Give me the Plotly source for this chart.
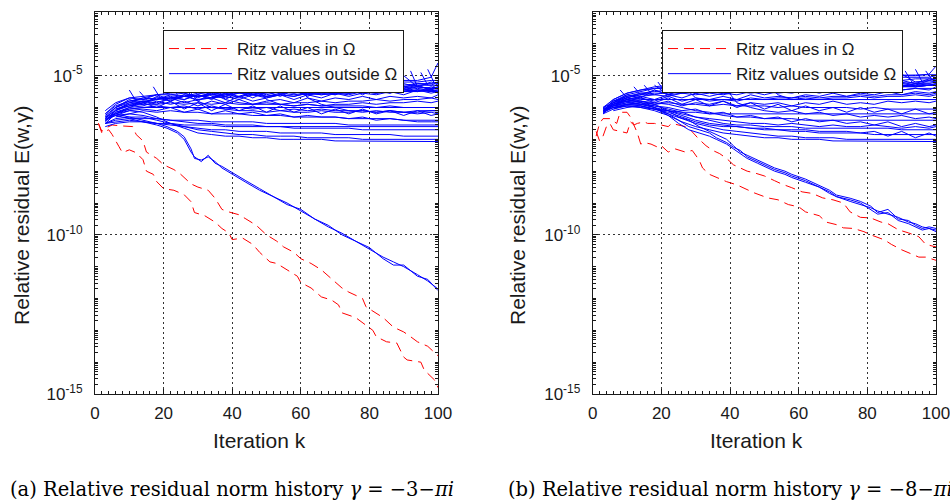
import plotly.graph_objects as go

N = None

# ---------------- panel (a): gamma = -3 - pi i ----------------
# values are log10 of the relative residual E(w, gamma)
A_RED1_K = [1, 2, 3, 5, 8, 11, 12, 14, 15, 18, 20, 23, 25, 28, 30, 33, 35, 37, 39, 42, 44, 47, 50, 53, 55,
            58, 60, 63, 66, 69, 72, 74, 78, 79, 82, 84, 87, 90, 92, 94, 97, 99, 100]
A_RED1 = [-6.5, -6.75, -6.65, -6.55, -6.58, -6.6, -6.85, -7.05, -7.4, -7.6, -7.8, -7.95, -8.1, -8.4, -8.5,
          -8.6, -8.85, -9.2, -9.28, -9.37, -9.5, -9.7, -10.0, -10.2, -10.38, -10.55, -10.75, -10.9, -11.1, -11.4,
          -11.67, -11.8, -12.0, -12.26, -12.45, -12.6, -12.9, -13.05, -13.2, -13.36, -13.5, -13.7, -13.8]
A_RED2_K = [1, 2, 4, 5, 7, 8, 10, 12, 14, 15, 17, 18, 20, 23, 26, 28, 29, 32, 35, 37, 39, 40, 43, 46, 48,
            51, 53, 57, 59, 60, 63, 66, 69, 71, 72, 76, 78, 81, 82, 85, 88, 90, 91, 95, 96, 99, 100]
A_RED2 = [-6.5, -6.8, -6.7, -6.85, -7.23, -7.42, -7.33, -7.42, -7.64, -8.0, -8.1, -8.33, -8.55, -8.6, -8.74,
          -8.96, -9.3, -9.4, -9.6, -9.8, -9.94, -10.15, -10.1, -10.3, -10.55, -10.85, -10.9, -11.15, -11.3, -11.5,
          -11.67, -11.95, -12.05, -12.2, -12.45, -12.6, -12.77, -13.0, -13.2, -13.36, -13.4, -13.84, -13.93, -14.0,
          -14.25, -14.56, -14.8]

A_FAST_K = [3, 6, 10, 14, 18, 21, 24, 26, 28, 29, 31, 33, 35, 37, 40, 44, 48, 52, 56, 60, 64, 68, 72, 76, 80,
            84, 87, 90, 94, 97, 100]
A_FAST_1 = [-6.3, -6.2, -6.3, -6.4, -6.5, -6.6, -6.75, -6.92, -7.3, -7.6, -7.65, -7.55, -7.7, -7.9, -8.1,
            -8.35, -8.6, -8.8, -9.0, -9.25, -9.5, -9.75, -9.95, -10.2, -10.45, -10.7, -10.85, -11.0, -11.25,
            -11.45, -11.7]
A_FAST_2 = [-6.4, -6.25, -6.35, -6.45, -6.55, -6.65, -6.8, -7.0, -7.4, -7.55, -7.7, -7.5, -7.75, -7.85, -8.05,
            -8.3, -8.55, -8.8, -9.05, -9.2, -9.5, -9.7, -10.0, -10.2, -10.4, -10.75, -10.95, -10.95, -11.3,
            -11.4, -11.75]

K_GRID = [3, 6, 10, 14, 18, 22, 26, 30, 34, 38, 42, 46, 50, 54, 58, 62, 66, 70, 74, 78, 82, 86, 90, 94, 98, 100]

A_BAND_01 = [-6.3, -6.0, -5.8, -5.7, -5.6, -5.55, -5.5, -5.5, -5.45, -5.4, -5.4, -5.35, -5.35, -5.3, -5.3, -5.3, -5.25, -5.25, -5.2, -5.2, -5.2, -5.15, -5.15, -5.15, -5.05, -4.6]
A_BAND_02 = [-6.2, -5.95, -5.8, -5.75, -5.7, -5.7, -5.6, -5.65, -5.55, -5.55, -5.5, -5.55, -5.45, -5.45, -5.5, -5.4, -5.4, -5.35, -5.4, -5.3, -5.35, -5.25, -5.3, -5.25, -5.25, -5.2]
A_BAND_03 = [N, -6.1, -5.9, -5.8, -5.75, -5.7, -5.65, -5.65, -5.6, -5.6, -5.55, -5.55, -5.5, -5.5, -5.45, -5.45, -5.45, -5.4, -5.4, -5.4, -5.35, -5.35, -5.35, -5.3, -5.3, -5.3]
A_BAND_04 = [-6.4, -6.1, -5.85, -5.8, -5.85, -5.7, -5.75, -5.6, -5.7, -5.55, -5.65, -5.5, -5.6, -5.5, -5.55, -5.45, -5.55, -5.45, -5.5, -5.4, -5.45, -5.4, -5.45, -5.35, -5.4, -5.4]
A_BAND_05 = [N, N, N, N, N, -5.1, -5.55, -5.65, -5.6, -5.65, -5.55, -5.6, -5.55, -5.5, -5.55, -5.5, -5.45, -5.5, -5.45, -5.45, -5.4, -5.45, -5.4, -5.35, -5.4, -5.35]
A_BAND_06 = [N, N, N, N, N, N, N, -5.2, -5.65, -5.7, -5.65, -5.6, -5.65, -5.55, -5.6, -5.55, -5.55, -5.5, -5.55, -5.5, -5.5, -5.45, -5.5, -5.45, -5.45, -5.45]
A_BAND_07 = [N, N, N, N, N, N, N, N, N, N, -5.15, -5.6, -5.65, -5.6, -5.65, -5.55, -5.6, -5.55, -5.55, -5.5, -5.55, -5.5, -5.5, -5.5, -5.45, -5.5]
A_BAND_08 = [N, N, N, N, N, N, N, N, N, N, N, N, N, -5.1, -5.5, -5.6, -5.55, -5.6, -5.5, -5.55, -5.5, -5.55, -5.45, -5.5, -5.45, -5.55]
A_BAND_09 = [N, N, N, N, N, N, N, N, N, N, N, N, N, N, N, N, -5.1, -5.5, -5.55, -5.5, -5.55, -5.45, -5.5, -5.45, -5.5, -5.45]
A_BAND_10 = [N, N, N, N, N, N, N, N, N, N, N, N, N, N, N, N, N, N, N, -5.05, -5.45, -5.5, -5.45, -5.4, -5.45, -5.35]
A_BAND_11 = [N, N, N, N, N, N, N, N, N, N, N, N, N, N, N, N, N, N, N, N, N, N, -5.0, -5.35, -5.4, -5.25]
A_BAND_12 = [N, N, N, N, N, N, N, N, -5.2, -5.75, -5.85, -5.9, -5.85, -5.9, -5.85, -5.85, -5.8, -5.85, -5.8, -5.8, -5.75, -5.8, -5.75, -5.75, -5.7, -5.75]
A_BAND_13 = [N, N, N, N, N, N, N, N, N, N, N, -5.25, -5.75, -5.9, -5.95, -5.9, -5.95, -5.9, -5.9, -5.85, -5.9, -5.85, -5.85, -5.8, -5.85, -5.8]
A_BAND_14 = [-6.3, -6.1, -5.95, -5.9, -5.9, -5.85, -5.9, -5.85, -5.9, -5.85, -5.9, -5.9, -5.9, -5.9, -5.95, -5.9, -5.95, -5.95, -5.95, -5.95, -6.0, -5.95, -6.0, -6.0, -6.0, -6.0]
A_BAND_15 = [N, -6.2, -6.05, -6.0, -6.0, -6.0, -6.0, -6.0, -6.0, -6.0, -6.0, -6.0, -6.0, -6.0, -6.0, -6.0, -6.0, -6.0, -6.0, -6.0, -6.0, -6.0, -6.0, -6.0, -6.0, -6.0]
A_BAND_16 = [-6.5, -6.2, -6.0, -5.85, -6.0, -5.8, -6.05, -5.85, -6.1, -5.9, -6.1, -5.95, -6.15, -5.95, -6.15, -6.0, -6.2, -6.05, -6.2, -6.05, -6.2, -6.1, -6.25, -6.1, -6.25, -6.2]
A_BAND_17 = [N, -6.3, -6.2, -6.1, -6.15, -6.1, -6.15, -6.15, -6.2, -6.2, -6.2, -6.25, -6.25, -6.25, -6.3, -6.3, -6.3, -6.3, -6.35, -6.35, -6.35, -6.35, -6.4, -6.4, -6.4, -6.4]
A_BAND_18 = [N, N, N, N, N, N, -5.3, -5.8, -6.0, -6.05, -6.1, -6.1, -6.15, -6.1, -6.15, -6.15, -6.1, -6.15, -6.15, -6.1, -6.15, -6.1, -6.15, -6.1, -6.1, -6.1]
A_BAND_19 = [N, N, N, N, N, N, N, N, N, N, N, N, N, N, -5.2, -5.7, -5.9, -6.0, -6.1, -6.1, -6.15, -6.1, -6.15, -6.15, -6.1, -6.1]
A_BAND_20 = [-6.4, -6.15, -6.05, -6.0, -5.95, -6.0, -5.95, -6.05, -5.95, -6.05, -6.0, -6.05, -6.0, -6.1, -6.05, -6.1, -6.05, -6.1, -6.1, -6.15, -6.1, -6.15, -6.15, -6.2, -6.15, -6.2]
A_BAND_21 = [-6.5, -6.4, -6.35, -6.35, -6.35, -6.4, -6.4, -6.4, -6.45, -6.45, -6.45, -6.45, -6.5, -6.5, -6.5, -6.5, -6.5, -6.5, -6.55, -6.55, -6.55, -6.55, -6.55, -6.55, -6.55, -6.55]
A_BAND_22 = [-6.6, -6.5, -6.45, -6.45, -6.5, -6.5, -6.55, -6.55, -6.55, -6.6, -6.6, -6.6, -6.6, -6.6, -6.65, -6.65, -6.65, -6.65, -6.65, -6.7, -6.7, -6.7, -6.7, -6.7, -6.7, -6.7]
A_BAND_23 = [-6.5, -6.45, -6.4, -6.45, -6.5, -6.55, -6.6, -6.65, -6.7, -6.7, -6.75, -6.75, -6.75, -6.8, -6.8, -6.8, -6.8, -6.85, -6.85, -6.85, -6.85, -6.85, -6.9, -6.9, -6.9, -6.9]
A_BAND_24 = [-6.5, -6.35, -6.3, -6.3, -6.4, -6.5, -6.6, -6.7, -6.75, -6.8, -6.85, -6.85, -6.9, -6.9, -6.9, -6.95, -6.95, -6.95, -6.95, -7.0, -7.0, -7.0, -7.0, -7.0, -7.0, -7.0]
A_BAND_25 = [-6.4, -6.2, -6.1, -6.15, -6.3, -6.5, -6.65, -6.8, -6.85, -6.9, -6.9, -6.95, -6.95, -7.0, -7.0, -7.0, -7.0, -7.05, -7.05, -7.05, -7.05, -7.05, -7.05, -7.07, -7.07, -7.07]
A_BAND_26 = [-6.35, -6.25, -6.2, -6.25, -6.35, -6.4, -6.45, -6.5, -6.5, -6.55, -6.55, -6.55, -6.6, -6.6, -6.6, -6.6, -6.6, -6.6, -6.6, -6.6, -6.6, -6.6, -6.6, -6.6, -6.6, -6.6]
A_BAND_27 = [-6.1, -5.85, -5.7, -5.65, -5.6, -5.6, -5.55, -5.7, -5.5, -5.65, -5.45, -5.6, -5.4, -5.55, -5.4, -5.5, -5.35, -5.5, -5.3, -5.45, -5.3, -5.4, -5.25, -5.35, -5.2, -5.25]
A_BAND_28 = [N, -6.05, -5.9, -5.85, -5.7, -5.8, -5.65, -5.75, -5.7, -5.65, -5.75, -5.6, -5.7, -5.6, -5.65, -5.55, -5.6, -5.55, -5.6, -5.5, -5.55, -5.5, -5.5, -5.45, -5.5, -5.5]
A_BAND_29 = [N, -6.0, -5.75, -5.9, -5.65, -5.8, -5.6, -5.8, -5.55, -5.75, -5.5, -5.7, -5.5, -5.65, -5.45, -5.65, -5.45, -5.6, -5.4, -5.6, -5.4, -5.55, -5.35, -5.5, -5.35, -5.4]
A_BAND_30 = [-6.2, -5.9, -5.7, -5.75, -5.6, -5.75, -5.65, -5.6, -5.75, -5.55, -5.7, -5.5, -5.65, -5.6, -5.45, -5.6, -5.5, -5.4, -5.55, -5.45, -5.35, -5.5, -5.4, -5.3, -5.45, -5.35]
A_BAND_31 = [-6.35, -6.05, -5.95, -5.8, -5.9, -5.7, -5.85, -5.75, -5.7, -5.85, -5.65, -5.8, -5.7, -5.6, -5.75, -5.6, -5.7, -5.55, -5.65, -5.55, -5.6, -5.5, -5.6, -5.45, -5.55, -5.5]
A_BAND_32 = [N, N, -5.95, -5.85, -5.75, -5.65, -5.75, -5.6, -5.7, -5.6, -5.5, -5.6, -5.45, -5.55, -5.5, -5.4, -5.5, -5.35, -5.45, -5.35, -5.4, -5.3, -5.35, -5.25, -5.3, -5.2]
A_BAND_33 = [-6.45, -6.15, -6.0, -5.95, -5.8, -5.9, -5.8, -5.95, -5.8, -5.9, -5.75, -5.9, -5.8, -5.75, -5.85, -5.7, -5.8, -5.7, -5.75, -5.65, -5.75, -5.65, -5.7, -5.65, -5.7, -5.6]
A_BAND_34 = [N, -6.25, -6.1, -6.05, -6.1, -6.0, -6.15, -6.05, -6.2, -6.1, -6.2, -6.15, -6.25, -6.2, -6.3, -6.25, -6.3, -6.3, -6.35, -6.3, -6.4, -6.35, -6.4, -6.45, -6.45, -6.45]
A_BAND_35 = [-6.25, -6.0, -5.85, -5.7, -5.75, -5.6, -5.65, -5.55, -5.6, -5.5, -5.5, -5.45, -5.45, -5.4, -5.4, -5.35, -5.35, -5.3, -5.3, -5.25, -5.25, -5.25, -5.2, -5.2, -5.15, -5.15]

# short-lived Ritz values entering high and falling into the band
A_SPIKE_K0 = [10, 13, 17, 22, 26, 29, 33, 36, 41, 45, 49, 52, 55, 59, 63, 67, 70, 74, 77, 81, 84, 88, 92, 95, 97]
A_SPIKE_TOP = [-5.45, -5.5, -5.35, -5.15, -5.25, -5.1, -5.2, -5.15, -5.1, -5.15, -5.05, -5.1, -5.05, -5.0, -5.05,
               -4.95, -5.0, -4.95, -4.9, -4.95, -4.85, -4.9, -4.85, -4.9, -4.8]
A_SPIKE_K1 = [12, 15, 19, 24, 28, 31, 35, 38, 43, 47, 51, 54, 57, 61, 65, 69, 72, 76, 79, 83, 86, 90, 94, 97, 99]
A_SPIKE_BASE = [-5.8, -5.75, -5.7, -5.6, -5.65, -5.55, -5.6, -5.5, -5.55, -5.5, -5.5, -5.45, -5.5, -5.4, -5.45,
                -5.4, -5.45, -5.35, -5.4, -5.35, -5.35, -5.3, -5.35, -5.3, -5.25]

# ---------------- panel (b): gamma = -8 - pi i ----------------
B_RED1_K = [1, 2, 3, 5, 7, 8, 10, 11, 12, 13, 15, 16, 18, 20, 22, 23, 25, 27, 28, 30, 31, 33, 35, 37, 39,
            41, 43, 45, 47, 50, 53, 55, 58, 61, 64, 67, 70, 73, 75, 78, 81, 84, 86, 89, 92, 95, 97, 100]
B_RED1 = [-6.9, -6.5, -6.35, -6.35, -6.5, -6.15, -6.15, -6.3, -6.55, -6.5, -6.45, -6.5, -6.5, -6.55, -6.6,
          -6.5, -6.55, -6.6, -6.65, -6.9, -7.0, -7.2, -7.35, -7.45, -7.6, -7.8, -7.9, -8.0, -8.05, -8.15,
          -8.3, -8.4, -8.52, -8.65, -8.7, -8.84, -8.9, -9.0, -9.28, -9.45, -9.47, -9.6, -9.65, -9.84, -9.94,
          -10.06, -10.3, -10.38]
B_RED2_K = [1, 2, 3, 4, 5, 6, 8, 10, 11, 12, 13, 14, 15, 17, 19, 20, 22, 24, 27, 29, 31, 32, 34, 36, 39,
            42, 45, 47, 51, 54, 57, 60, 62, 66, 68, 71, 73, 76, 79, 81, 85, 87, 90, 92, 95, 97, 100]
B_RED2 = [-6.75, -7.05, -6.9, -6.6, -6.5, -6.7, -6.75, -6.8, -6.45, -6.55, -6.8, -7.15, -7.1, -7.15, -7.25,
          -7.2, -7.4, -7.3, -7.4, -7.35, -7.65, -7.9, -8.1, -8.2, -8.33, -8.43, -8.58, -8.68, -8.84, -8.9,
          -9.05, -9.12, -9.28, -9.4, -9.6, -9.68, -9.78, -9.8, -9.9, -10.0, -10.16, -10.3, -10.47, -10.57,
          -10.7, -10.7, -10.8]

B_FAST_K = [3, 6, 10, 14, 18, 22, 25, 28, 31, 34, 36, 39, 41, 43, 45, 48, 50, 53, 56, 58, 62, 66, 69, 71, 75,
            78, 81, 83, 86, 89, 92, 94, 96, 98, 100]
B_FAST_1 = [-6.1, -5.8, -5.7, -5.8, -5.9, -6.1, -6.3, -6.4, -6.6, -6.75, -6.85, -7.0, -7.2, -7.4, -7.5,
            -7.65, -7.75, -7.9, -8.0, -8.1, -8.25, -8.45, -8.6, -8.75, -8.85, -8.95, -9.1, -9.3, -9.2, -9.5,
            -9.55, -9.7, -9.8, -9.75, -9.8]
B_FAST_2 = [-6.2, -5.9, -5.8, -5.9, -6.0, -6.2, -6.4, -6.6, -6.7, -6.8, -6.95, -7.1, -7.25, -7.35, -7.55,
            -7.7, -7.8, -7.95, -8.05, -8.15, -8.3, -8.5, -8.65, -8.8, -8.9, -9.0, -9.2, -9.35, -9.3, -9.55,
            -9.65, -9.75, -9.85, -9.8, -9.9]
B_FAST_3 = [-6.0, -5.85, -5.75, -5.85, -6.0, -6.25, -6.5, -6.7, -6.8, -6.9, -7.0, -7.15, -7.3, -7.45, -7.6,
            -7.75, -7.85, -8.0, -8.1, -8.2, -8.35, -8.5, -8.7, -8.8, -8.95, -9.05, -9.15, -9.25, -9.35, -9.45,
            -9.6, -9.65, -9.75, -9.8, -9.85]

B_BAND_01 = [-6.1, -5.8, -5.6, -5.5, -5.4, -5.35, -5.3, -5.3, -5.25, -5.25, -5.2, -5.2, -5.15, -5.15, -5.1, -5.1, -5.1, -5.05, -5.05, -5.05, -5.0, -5.0, -5.0, -5.0, -4.95, -4.7]
B_BAND_02 = [-6.05, -5.75, -5.55, -5.45, -5.4, -5.4, -5.35, -5.35, -5.3, -5.3, -5.3, -5.25, -5.25, -5.2, -5.2, -5.2, -5.15, -5.15, -5.15, -5.1, -5.1, -5.1, -5.05, -5.05, -5.05, -5.0]
B_BAND_03 = [-6.15, -5.85, -5.65, -5.55, -5.5, -5.45, -5.4, -5.4, -5.35, -5.35, -5.35, -5.3, -5.3, -5.3, -5.25, -5.25, -5.25, -5.2, -5.2, -5.2, -5.15, -5.15, -5.15, -5.1, -5.1, -5.1]
B_BAND_04 = [N, -5.9, -5.7, -5.6, -5.45, -5.6, -5.45, -5.55, -5.4, -5.5, -5.35, -5.5, -5.35, -5.45, -5.3, -5.45, -5.3, -5.4, -5.25, -5.35, -5.25, -5.3, -5.2, -5.3, -5.15, -5.2]
B_BAND_05 = [N, N, N, N, -5.3, -5.6, -5.55, -5.5, -5.5, -5.45, -5.45, -5.4, -5.4, -5.4, -5.35, -5.35, -5.35, -5.3, -5.3, -5.3, -5.25, -5.25, -5.25, -5.2, -5.2, -5.2]
B_BAND_06 = [N, N, N, N, N, N, N, -5.2, -5.5, -5.55, -5.5, -5.5, -5.45, -5.45, -5.4, -5.45, -5.4, -5.4, -5.35, -5.4, -5.35, -5.35, -5.3, -5.35, -5.3, -5.3]
B_BAND_07 = [N, N, N, N, N, N, N, N, N, N, -5.15, -5.45, -5.5, -5.45, -5.5, -5.4, -5.45, -5.4, -5.4, -5.35, -5.4, -5.35, -5.35, -5.3, -5.3, -5.3]
B_BAND_08 = [N, N, N, N, N, N, N, N, N, N, N, N, N, -5.05, -5.35, -5.45, -5.4, -5.45, -5.35, -5.4, -5.35, -5.35, -5.3, -5.35, -5.3, -5.3]
B_BAND_09 = [N, N, N, N, N, N, N, N, N, N, N, N, N, N, N, N, -5.0, -5.3, -5.4, -5.35, -5.4, -5.3, -5.35, -5.3, -5.3, -5.25]
B_BAND_10 = [N, N, N, N, N, N, N, N, N, N, N, N, N, N, N, N, N, N, N, -4.95, -5.25, -5.3, -5.3, -5.25, -5.25, -5.2]
B_BAND_11 = [N, N, N, N, N, N, N, N, N, N, N, N, N, N, N, N, N, N, N, N, N, N, -4.95, -5.2, -5.15, -5.1]
B_BAND_12 = [-6.1, -5.8, -5.65, -5.6, -5.55, -5.55, -5.5, -5.5, -5.5, -5.45, -5.45, -5.45, -5.45, -5.4, -5.4, -5.4, -5.4, -5.4, -5.35, -5.35, -5.35, -5.35, -5.35, -5.35, -5.3, -5.3]
B_BAND_13 = [N, -5.95, -5.75, -5.65, -5.6, -5.65, -5.55, -5.6, -5.55, -5.6, -5.5, -5.55, -5.5, -5.55, -5.5, -5.5, -5.45, -5.5, -5.45, -5.45, -5.45, -5.4, -5.45, -5.4, -5.4, -5.4]
B_BAND_14 = [N, N, N, N, N, N, -5.3, -5.7, -5.8, -5.75, -5.8, -5.7, -5.75, -5.7, -5.7, -5.65, -5.7, -5.65, -5.65, -5.6, -5.65, -5.6, -5.6, -5.55, -5.6, -5.55]
B_BAND_15 = [N, N, N, N, N, N, N, N, N, N, N, N, -5.2, -5.6, -5.75, -5.7, -5.75, -5.7, -5.7, -5.65, -5.7, -5.65, -5.65, -5.6, -5.65, -5.6]
B_BAND_16 = [-6.1, -5.9, -5.8, -5.75, -5.75, -5.75, -5.75, -5.75, -5.75, -5.75, -5.75, -5.75, -5.75, -5.75, -5.75, -5.75, -5.75, -5.75, -5.75, -5.75, -5.75, -5.75, -5.75, -5.75, -5.75, -5.75]
B_BAND_17 = [-6.1, -5.95, -5.9, -5.85, -5.9, -5.85, -5.9, -5.9, -5.95, -5.9, -5.95, -5.95, -5.95, -6.0, -5.95, -6.0, -6.0, -6.0, -6.0, -6.05, -6.0, -6.05, -6.05, -6.05, -6.05, -6.05]
B_BAND_18 = [-6.15, -5.9, -5.75, -5.7, -5.85, -5.7, -5.9, -5.75, -5.95, -5.8, -6.0, -5.85, -6.05, -5.9, -6.1, -5.95, -6.1, -6.0, -6.15, -6.0, -6.15, -6.05, -6.2, -6.05, -6.2, -6.15]
B_BAND_19 = [-6.15, -6.0, -5.95, -6.0, -6.05, -6.1, -6.15, -6.15, -6.2, -6.2, -6.2, -6.2, -6.2, -6.2, -6.2, -6.2, -6.2, -6.2, -6.2, -6.2, -6.2, -6.2, -6.2, -6.2, -6.2, -6.2]
B_BAND_20 = [N, N, N, N, N, N, N, N, N, -5.3, -5.85, -6.0, -6.1, -6.15, -6.1, -6.2, -6.15, -6.25, -6.2, -6.3, -6.25, -6.3, -6.25, -6.35, -6.3, -6.35]
B_BAND_21 = [-6.1, -5.95, -5.8, -5.8, -5.85, -5.9, -6.0, -6.1, -6.15, -6.25, -6.3, -6.3, -6.35, -6.35, -6.35, -6.4, -6.4, -6.4, -6.4, -6.4, -6.4, -6.4, -6.4, -6.4, -6.4, -6.4]
B_BAND_22 = [N, -6.0, -5.9, -5.85, -5.95, -6.0, -6.1, -6.05, -6.2, -6.15, -6.3, -6.25, -6.35, -6.3, -6.45, -6.35, -6.45, -6.4, -6.5, -6.45, -6.55, -6.45, -6.6, -6.5, -6.6, -6.55]
B_BAND_23 = [-6.1, -5.95, -5.85, -5.9, -6.0, -6.1, -6.25, -6.4, -6.5, -6.55, -6.6, -6.65, -6.7, -6.7, -6.75, -6.75, -6.8, -6.8, -6.8, -6.8, -6.85, -6.85, -6.85, -6.85, -6.85, -6.85]
B_BAND_24 = [-6.15, -6.0, -5.9, -5.95, -6.05, -6.2, -6.35, -6.5, -6.6, -6.7, -6.75, -6.8, -6.85, -6.9, -6.9, -6.95, -6.95, -6.95, -7.0, -7.0, -7.0, -7.0, -7.0, -7.0, -7.0, -7.0]
B_BAND_25 = [-6.1, -6.0, -5.95, -6.0, -6.1, -6.25, -6.45, -6.6, -6.7, -6.8, -6.85, -6.9, -6.95, -6.95, -7.0, -7.0, -7.0, -7.05, -7.05, -7.05, -7.05, -7.05, -7.07, -7.07, -7.07, -7.07]
B_BAND_26 = [-6.2, -6.05, -5.95, -5.95, -6.05, -6.15, -6.3, -6.45, -6.55, -6.6, -6.6, -6.65, -6.65, -6.7, -6.7, -6.7, -6.75, -6.75, -6.75, -6.8, -6.75, -6.9, -6.75, -6.95, -6.8, -6.9]
B_BAND_27 = [N, -6.05, -5.9, -5.9, -5.95, -6.05, -6.15, -6.3, -6.4, -6.5, -6.55, -6.55, -6.6, -6.6, -6.6, -6.65, -6.65, -6.65, -6.65, -6.65, -6.65, -6.65, -6.7, -6.7, -6.7, -6.7]
B_BAND_28 = [N, -5.85, -5.6, -5.7, -5.45, -5.6, -5.4, -5.55, -5.35, -5.5, -5.35, -5.45, -5.3, -5.45, -5.25, -5.4, -5.25, -5.35, -5.2, -5.35, -5.2, -5.3, -5.15, -5.25, -5.1, -5.15]
B_BAND_29 = [-6.1, -5.85, -5.7, -5.55, -5.6, -5.5, -5.55, -5.45, -5.5, -5.4, -5.5, -5.4, -5.45, -5.35, -5.45, -5.35, -5.4, -5.3, -5.4, -5.3, -5.35, -5.25, -5.35, -5.25, -5.3, -5.25]
B_BAND_30 = [-6.05, -5.9, -5.75, -5.65, -5.75, -5.6, -5.7, -5.55, -5.65, -5.55, -5.6, -5.5, -5.6, -5.5, -5.55, -5.45, -5.55, -5.45, -5.5, -5.4, -5.5, -5.4, -5.45, -5.4, -5.45, -5.35]
B_BAND_31 = [N, N, -5.8, -5.7, -5.8, -5.65, -5.8, -5.7, -5.75, -5.65, -5.75, -5.6, -5.7, -5.65, -5.7, -5.6, -5.65, -5.55, -5.65, -5.55, -5.6, -5.5, -5.6, -5.5, -5.55, -5.5]
B_BAND_32 = [-6.1, -5.95, -5.85, -5.8, -5.9, -5.8, -5.95, -5.85, -5.9, -5.8, -5.95, -5.85, -5.9, -5.85, -5.95, -5.85, -5.9, -5.8, -5.9, -5.85, -5.9, -5.8, -5.85, -5.8, -5.85, -5.8]
B_BAND_33 = [-6.0, -5.75, -5.55, -5.45, -5.35, -5.3, -5.3, -5.25, -5.2, -5.2, -5.2, -5.15, -5.15, -5.1, -5.1, -5.1, -5.05, -5.05, -5.05, -5.0, -5.0, -5.0, -4.98, -4.98, -4.97, -4.97]
B_BAND_34 = [N, -6.1, -6.0, -5.95, -6.05, -6.1, -6.2, -6.3, -6.35, -6.4, -6.45, -6.5, -6.5, -6.55, -6.5, -6.55, -6.6, -6.55, -6.6, -6.6, -6.55, -6.6, -6.65, -6.6, -6.65, -6.6]

B_SPIKE_K0 = [8, 12, 15, 19, 23, 27, 31, 35, 39, 43, 47, 50, 54, 58, 62, 66, 69, 73, 76, 80, 84, 87, 91, 94, 97]
B_SPIKE_TOP = [-5.45, -5.35, -5.3, -5.2, -5.15, -5.2, -5.1, -5.15, -5.05, -5.1, -5.0, -5.05, -5.0, -4.95, -5.0,
               -4.95, -4.9, -4.95, -4.9, -4.85, -4.9, -4.85, -4.85, -4.8, -4.85]
B_SPIKE_K1 = [10, 14, 17, 21, 25, 29, 33, 37, 41, 45, 49, 52, 56, 60, 64, 68, 71, 75, 78, 82, 86, 89, 93, 96, 99]
B_SPIKE_BASE = [-5.7, -5.6, -5.55, -5.5, -5.45, -5.5, -5.4, -5.45, -5.4, -5.4, -5.35, -5.4, -5.35, -5.3, -5.35,
                -5.3, -5.3, -5.3, -5.25, -5.25, -5.25, -5.2, -5.2, -5.2, -5.15]

X_TICKS = [0, 20, 40, 60, 80, 100]
Y_TICKS = [1e-15, 1e-10, 1e-5]
Y_TICK_TEXT = ["10<sup>-15</sup>", "10<sup>-10</sup>", "10<sup>-5</sup>"]
NAME_IN = "Ritz values in Ω"
NAME_OUT = "Ritz values outside Ω"
X_TITLE = "Iteration k"
Y_TITLE = "Relative residual E(w,γ)"
CAPTION_A = "(a) Relative residual norm history <i>γ</i> = −3−<i>πi</i>"
CAPTION_B = "(b) Relative residual norm history <i>γ</i> = −8−<i>πi</i>"

A_BAND = [A_BAND_01, A_BAND_02, A_BAND_03, A_BAND_04, A_BAND_05, A_BAND_06, A_BAND_07, A_BAND_08,
          A_BAND_09, A_BAND_10, A_BAND_11, A_BAND_12, A_BAND_13, A_BAND_14, A_BAND_15, A_BAND_16,
          A_BAND_17, A_BAND_18, A_BAND_19, A_BAND_20, A_BAND_21, A_BAND_22, A_BAND_23, A_BAND_24,
          A_BAND_25, A_BAND_26, A_BAND_27, A_BAND_28, A_BAND_29, A_BAND_30, A_BAND_31, A_BAND_32,
          A_BAND_33, A_BAND_34, A_BAND_35]
B_BAND = [B_BAND_01, B_BAND_02, B_BAND_03, B_BAND_04, B_BAND_05, B_BAND_06, B_BAND_07, B_BAND_08,
          B_BAND_09, B_BAND_10, B_BAND_11, B_BAND_12, B_BAND_13, B_BAND_14, B_BAND_15, B_BAND_16,
          B_BAND_17, B_BAND_18, B_BAND_19, B_BAND_20, B_BAND_21, B_BAND_22, B_BAND_23, B_BAND_24,
          B_BAND_25, B_BAND_26, B_BAND_27, B_BAND_28, B_BAND_29, B_BAND_30, B_BAND_31, B_BAND_32,
          B_BAND_33, B_BAND_34]

FONT = "Liberation Sans, Arial, Helvetica, sans-serif"
SERIF = "DejaVu Serif, Liberation Serif, serif"
INK = "#1a1a1a"
RED = "#ff0000"
BLUE = "#0000ff"
W, H = 950, 501


def pw(vals):
    return [None if v is None else 10 ** v for v in vals]


fig = go.Figure()


def add_panel(xa, ya, leg, reds, fasts, band, spikes):
    first = True
    for k, v in reds:
        fig.add_trace(go.Scatter(
            x=k, y=pw(v), mode="lines", name=NAME_IN, legend=leg, showlegend=first,
            line=dict(color=RED, width=1, dash="10px,6px"), xaxis=xa, yaxis=ya, hoverinfo="skip"))
        first = False
    first = True
    for v in band:
        fig.add_trace(go.Scatter(
            x=K_GRID, y=pw(v), mode="lines", name=NAME_OUT, legend=leg, showlegend=first,
            line=dict(color=BLUE, width=1), xaxis=xa, yaxis=ya, hoverinfo="skip"))
        first = False
    for k, v in fasts:
        fig.add_trace(go.Scatter(
            x=k, y=pw(v), mode="lines", name=NAME_OUT, legend=leg, showlegend=False,
            line=dict(color=BLUE, width=1), xaxis=xa, yaxis=ya, hoverinfo="skip"))
    k0s, tops, k1s, bases = spikes
    for k0, t, k1, b in zip(k0s, tops, k1s, bases):
        fig.add_trace(go.Scatter(
            x=[k0, k1], y=pw([t, b]), mode="lines", name=NAME_OUT, legend=leg, showlegend=False,
            line=dict(color=BLUE, width=1), xaxis=xa, yaxis=ya, hoverinfo="skip"))


add_panel("x", "y", "legend",
          [(A_RED1_K, A_RED1), (A_RED2_K, A_RED2)],
          [(A_FAST_K, A_FAST_1), (A_FAST_K, A_FAST_2)], A_BAND,
          (A_SPIKE_K0, A_SPIKE_TOP, A_SPIKE_K1, A_SPIKE_BASE))
add_panel("x2", "y2", "legend2",
          [(B_RED1_K, B_RED1), (B_RED2_K, B_RED2)],
          [(B_FAST_K, B_FAST_1), (B_FAST_K, B_FAST_2), (B_FAST_K, B_FAST_3)], B_BAND,
          (B_SPIKE_K0, B_SPIKE_TOP, B_SPIKE_K1, B_SPIKE_BASE))


def xaxis(dom, anchor):
    return dict(domain=dom, anchor=anchor, range=[0, 100], tickvals=X_TICKS, ticks="inside", ticklen=5,
                tickcolor=INK, showline=True, linecolor=INK, linewidth=1, mirror="ticks",
                showgrid=True, gridcolor="#333333", griddash="2px,3px", gridwidth=1,
                zeroline=False, ticklabelstandoff=4, automargin=False, ticklabeloverflow="allow",
                tickfont=dict(family=FONT, size=17, color=INK),
                minor=dict(ticks="inside", ticklen=3, dtick=2, tickcolor=INK, showgrid=False))


def yaxis(anchor):
    return dict(domain=[1 - 394 / H, 1 - 12 / H], type="log", range=[-15, -3], anchor=anchor,
                tickvals=Y_TICKS, ticktext=Y_TICK_TEXT, ticks="inside", ticklen=5,
                tickcolor=INK, showline=True, linecolor=INK, linewidth=1, mirror="ticks",
                showgrid=True, gridcolor="#333333", griddash="2px,3px", gridwidth=1,
                zeroline=False, ticklabelstandoff=8, automargin=False, ticklabeloverflow="allow",
                tickfont=dict(family=FONT, size=17, color=INK),
                minor=dict(ticks="inside", ticklen=3, dtick="D1", tickcolor=INK, showgrid=False))


def legend_at(px):
    return dict(x=px / W, y=1 - 30 / H, xanchor="left", yanchor="top", bgcolor="white",
                bordercolor=INK, borderwidth=1, font=dict(family=FONT, size=17, color=INK),
                tracegroupgap=0, itemwidth=63)


def text_at(text, px, py, size, family, angle=0, xanchor="center", color=INK):
    return dict(text=text, x=px / W, y=1 - py / H, xref="paper", yref="paper", xanchor=xanchor,
                yanchor="middle", showarrow=False, textangle=angle,
                font=dict(family=family, size=size, color=color))


fig.update_layout(
    width=W, height=H, margin=dict(l=0, r=0, t=0, b=0, autoexpand=False),
    paper_bgcolor="white", plot_bgcolor="white", hovermode=False,
    xaxis=xaxis([95 / W, 438 / W], "y"),
    yaxis=yaxis("x"),
    xaxis2=xaxis([592.7 / W, 936 / W], "y2"),
    yaxis2=yaxis("x2"),
    legend=legend_at(163),
    legend2=legend_at(662),
    annotations=[
        text_at(X_TITLE, 259, 440, 21, FONT),
        text_at(X_TITLE, 756, 440, 21, FONT),
        text_at(Y_TITLE, 21, 216, 21, FONT, angle=-90),
        text_at(Y_TITLE, 517, 216, 21, FONT, angle=-90),
        text_at(CAPTION_A, 8, 489, 19.5, SERIF, xanchor="left", color="black"),
        text_at(CAPTION_B, 506, 489, 19.5, SERIF, xanchor="left", color="black"),
    ],
)

fig.write_html(
    "out.html", config={"displayModeBar": False},
    post_script="document.body.style.margin='0';document.body.style.overflow='hidden';",
)
